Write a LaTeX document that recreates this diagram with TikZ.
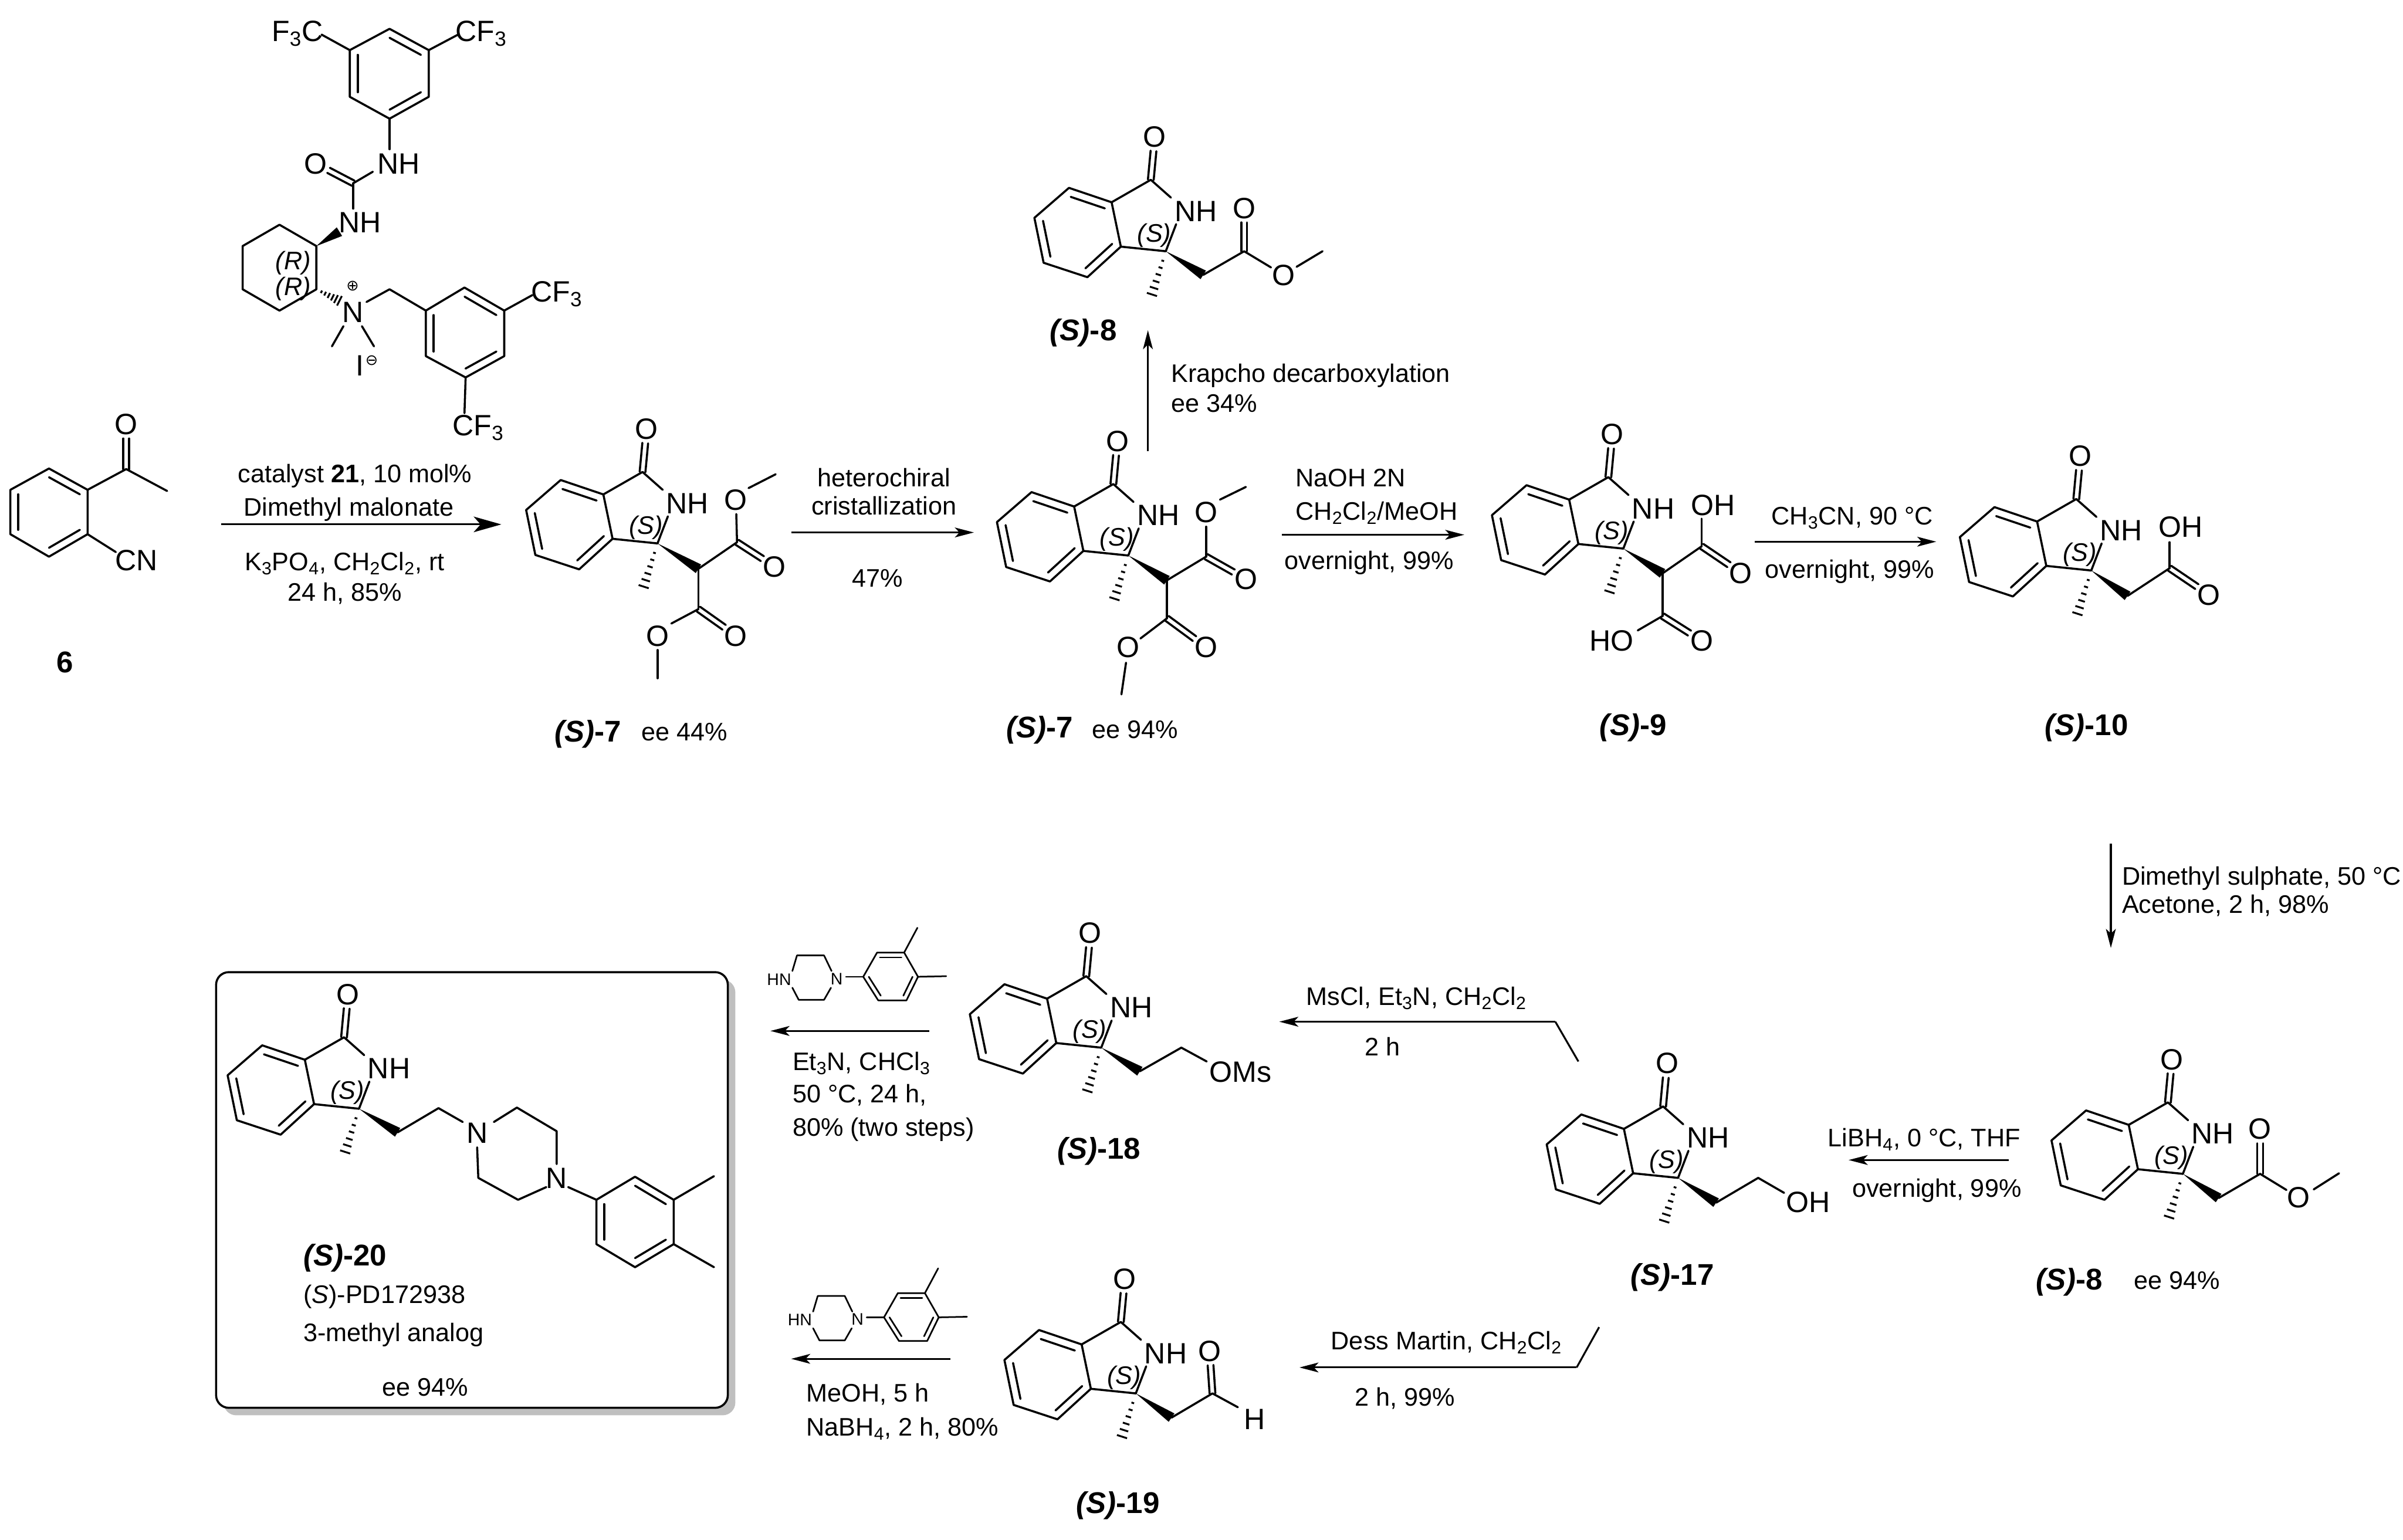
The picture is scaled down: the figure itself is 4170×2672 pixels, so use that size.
\documentclass[tikz,border=0pt]{standalone}
\usepackage{fontspec}
\setmainfont{Liberation Sans}
\newfontfamily\symfont{DejaVu Sans}
\usetikzlibrary{calc,arrows.meta}
\tikzset{
  bond/.style={line width=1.8pt,line cap=round,line join=round},
  hash/.style={line width=1.6pt,line cap=butt},
  arr/.style={line width=1.6pt,-{Stealth[length=16.5pt,width=8.5pt,inset=4pt]}},
  arrbig/.style={line width=1.6pt,-{Stealth[length=24pt,width=13.5pt,inset=6pt]}},
  thinl/.style={line width=1.6pt,line join=miter},
  atom/.style={inner sep=0pt,font=\fontsize{25.5}{25.5}\selectfont,text height=18pt,text depth=0pt},
  smatom/.style={inner sep=0pt,font=\fontsize{14.5}{14.5}\selectfont,text height=10.4pt,text depth=0pt},
  stereo/.style={inner sep=0pt,font=\fontsize{22}{22}\selectfont\itshape,text height=15.8pt,text depth=0pt},
  reag/.style={inner sep=0pt,font=\fontsize{22}{22}\selectfont,text height=15.8pt,text depth=0pt},
  reagl/.style={reag,anchor=west},
  cmpd/.style={inner sep=0pt,font=\fontsize{26}{26}\selectfont\bfseries,text height=18.7pt,text depth=0pt},
  chg/.style={inner sep=0pt,font=\fontsize{13}{13}\selectfont\symfont},
  frame/.style={draw=black,line width=1.8pt,fill=white,rounded corners=11pt,minimum width=444pt,minimum height=378pt,inner sep=0pt},
  frameshadow/.style={fill=black!25,rounded corners=11pt,minimum width=444pt,minimum height=378pt,inner sep=0pt},
}
\newcommand\Pt[3]{\coordinate (#1) at (#2,#3);}
\newcommand\Lb[5][atom]{\node[#1] (#2) at (#3,#4) {#5};}
\newcommand\Bd[2]{\draw[bond] (#1) -- (#2);}
\newcommand\Bt[2]{\draw[bond,shorten >=12.5pt] (#1) -- (#2.center);}
\newcommand\Db[2]{%
  \draw[bond,shorten >=12.5pt] ($(#1)!2.5pt!90:(#2.center)$) -- ($(#2.center)!2.5pt!-90:(#1)$);
  \draw[bond,shorten >=12.5pt] ($(#1)!2.5pt!-90:(#2.center)$) -- ($(#2.center)!2.5pt!90:(#1)$);}
\newcommand\In[3]{\draw[bond] ($(#1)!.2!(#3)$) -- ($(#2)!.2!(#3)$);}
\newcommand\Wd[2]{\fill (#1) -- ($(#2)!4.4pt!90:(#1)$) -- ($(#2)!4.4pt!-90:(#1)$) -- cycle;}
\newcommand\Hs[2]{\foreach \t/\w in {.22/1.2,.38/1.8,.54/2.4,.7/3,.85/3.8,1/4.6}{%
  \coordinate (hh) at ($(#1)!\t!(#2)$);
  \draw[hash] ($(hh)!\w pt!90:(#1)$) -- ($(hh)!\w pt!-90:(#1)$);}}
\newcommand\Sub[1]{\textsubscript{#1}}
\newcommand\Lactam[3]{%
  \begin{scope}[shift={(#2,#3)}]
    \Pt{#1c3}{0}{0}\Pt{#1c1}{-26}{-124}\Pt{#1a3}{-78}{-8}\Pt{#1a7}{-94}{-85}
    \Pt{#1c7}{-168}{-110}\Pt{#1c6}{-228}{-58}\Pt{#1c5}{-212}{20}\Pt{#1c4}{-136}{45}
    \Pt{#1m}{-24}{75}\Pt{#1n1}{9}{-93}\Pt{#1n2}{18}{-47}\Pt{#1ctr}{-153}{-32}
    \Lb{#1O}{-19}{-199}{O}
    \Lb{#1NH}{52}{-70}{NH}
    \Lb[stereo]{#1S}{-20}{-32}{(S)}
    \draw[bond] (#1a3) -- (#1a7) -- (#1c7) -- (#1c6) -- (#1c5) -- (#1c4) -- cycle;
    \In{#1a7}{#1c7}{#1ctr}\In{#1c6}{#1c5}{#1ctr}\In{#1c4}{#1a3}{#1ctr}
    \Bd{#1a7}{#1c1}\Bd{#1c1}{#1n1}\Bd{#1n2}{#1c3}\Bd{#1c3}{#1a3}
    \Db{#1c1}{#1O}
    \Hs{#1c3}{#1m}
  \end{scope}}
\newcommand\Pip[3]{%
  \begin{scope}[shift={(#2,#3)}]
    \Lb[smatom]{#1HN}{1352}{1699}{HN}\Lb[smatom]{#1N}{1452}{1698}{N}
    \Pt{#1a}{1375}{1685}\Pt{#1b}{1383}{1658}\Pt{#1c}{1430}{1658}\Pt{#1d}{1443}{1685}
    \Pt{#1e}{1375}{1714}\Pt{#1f}{1386}{1735}\Pt{#1g}{1430}{1735}\Pt{#1h}{1442}{1714}
    \Pt{#1i}{1468}{1695}
    \Pt{#1r1}{1498}{1695}\Pt{#1r2}{1522}{1653}\Pt{#1r3}{1569}{1653}\Pt{#1r4}{1593}{1695}\Pt{#1r5}{1573}{1736}\Pt{#1r6}{1524}{1736}
    \Pt{#1rc}{1546}{1695}\Pt{#1m1}{1592}{1610}\Pt{#1m2}{1642}{1694}
    \begin{scope}[bond,line width=1.4pt]
    \draw (#1a) -- (#1b) -- (#1c) -- (#1d);
    \draw (#1e) -- (#1f) -- (#1g) -- (#1h);
    \draw (#1i) -- (#1r1);
    \draw (#1r1) -- (#1r2) -- (#1r3) -- (#1r4) -- (#1r5) -- (#1r6) -- cycle;
    \draw ($(#1r2)!.2!(#1rc)$) -- ($(#1r3)!.2!(#1rc)$);
    \draw ($(#1r1)!.2!(#1rc)$) -- ($(#1r6)!.2!(#1rc)$);
    \draw ($(#1r4)!.2!(#1rc)$) -- ($(#1r5)!.2!(#1rc)$);
    \draw (#1r3) -- (#1m1);
    \draw (#1r4) -- (#1m2);
    \end{scope}
  \end{scope}}
\begin{document}
\begin{tikzpicture}[x=0.5pt,y=-0.5pt]
\useasboundingbox (0,0) rectangle (4170,2672);
\fill[white] (0,0) rectangle (4170,2672);

% ---------- compound 6
\Pt{a1}{85}{813}\Pt{a2}{152}{850}\Pt{a3}{152}{927}\Pt{a4}{85}{966}\Pt{a5}{18}{927}\Pt{a6}{18}{850}\Pt{actr}{85}{889}
\draw[bond] (a1)--(a2)--(a3)--(a4)--(a5)--(a6)--cycle;
\In{a1}{a2}{actr}\In{a3}{a4}{actr}\In{a5}{a6}{actr}
\Pt{a7}{219}{814}\Pt{a8}{290}{852}\Pt{a9}{201}{958}
\Lb{aO}{219}{736}{O}\Lb{aCN}{237}{972}{CN}
\Bd{a2}{a7}\Bd{a7}{a8}\Db{a7}{aO}\Bd{a3}{a9}
\Lb[cmpd]{l6}{113}{1148}{6}

% ---------- catalyst
\Pt{u1}{676}{50}\Pt{u2}{744}{87}\Pt{u3}{744}{168}\Pt{u4}{676}{206}\Pt{u5}{607}{168}\Pt{u6}{607}{87}\Pt{uc}{676}{128}
\draw[bond] (u1)--(u2)--(u3)--(u4)--(u5)--(u6)--cycle;
\In{u1}{u2}{uc}\In{u3}{u4}{uc}\In{u5}{u6}{uc}
\Lb{uF1}{516}{54}{F\Sub{3}C}\Lb{uF2}{835}{54}{CF\Sub{3}}
\Pt{u7}{558}{60}\Pt{u8}{795}{60}\Bd{u6}{u7}\Bd{u2}{u8}
\Pt{u9}{676}{259}\Bd{u4}{u9}
\Lb{uNH}{692}{284}{NH}\Lb{uO}{548}{284}{O}
\Pt{cu}{613}{318}\Pt{cu1}{647}{298}\Pt{cu2}{613}{362}
\Db{cu}{uO}\Bd{cu}{cu1}\Bd{cu}{cu2}
\Lb{uNH2}{625}{386}{NH}
\Pt{h1}{549}{427}\Pt{h2}{549}{502}\Pt{h3}{485}{539}\Pt{h4}{421}{502}\Pt{h5}{421}{427}\Pt{h6}{485}{390}
\draw[bond] (h1)--(h2)--(h3)--(h4)--(h5)--(h6)--cycle;
\Pt{h7}{589}{402}\Wd{h1}{h7}
\Pt{h8}{589}{522}\Hs{h2}{h8}
\Lb[stereo]{hR1}{509}{452}{(R)}\Lb[stereo]{hR2}{509}{497}{(R)}
\Lb{qN}{612}{541}{N}
\Lb[chg]{qP}{612}{496}{⊕}
\Pt{q1}{636}{524}\Pt{q2}{676}{502}\Pt{q3}{596}{566}\Pt{q4}{576}{601}\Pt{q5}{628}{566}\Pt{q6}{649}{601}
\Bd{q1}{q2}\Bd{q3}{q4}\Bd{q5}{q6}
\Lb{qI}{625}{634}{I}
\Lb[chg]{qM}{645}{626}{⊖}
\Pt{v1}{739}{539}\Pt{v2}{806}{499}\Pt{v3}{875}{539}\Pt{v4}{875}{618}\Pt{v5}{808}{655}\Pt{v6}{739}{618}\Pt{vc}{807}{578}
\draw[bond] (v1)--(v2)--(v3)--(v4)--(v5)--(v6)--cycle;
\In{v2}{v3}{vc}\In{v4}{v5}{vc}\In{v6}{v1}{vc}
\Bd{q2}{v1}
\Pt{v7}{924}{512}\Pt{v8}{806}{717}\Bd{v3}{v7}\Bd{v5}{v8}
\Lb{vF1}{966}{506}{CF\Sub{3}}\Lb{vF2}{830}{738}{CF\Sub{3}}

% ---------- arrow 1
\Pt{r1s}{384}{910}\Pt{r1e}{870}{910}\draw[arrbig] (r1s) -- (r1e);
\Lb[reag]{r1a}{616}{822}{catalyst \textbf{21}, 10 mol\%}
\Lb[reag]{r1b}{605}{880}{Dimethyl malonate}
\Lb[reag]{r1c}{598}{974}{K\Sub{3}PO\Sub{4}, CH\Sub{2}Cl\Sub{2}, rt}
\Lb[reag]{r1d}{598}{1027}{24 h, 85\%}

% ---------- (S)-7 ee 44
\Lactam{b}{1141}{943}
\Pt{b1}{1212}{987}\Pt{b2}{1279}{941}\Pt{b3}{1212}{1057}
\Lb{bO1}{1277}{867}{O}\Lb{bO2}{1344}{983}{O}\Lb{bO3}{1277}{1103}{O}\Lb{bO4}{1141}{1103}{O}
\Wd{bc3}{b1}\Bd{b1}{b2}\Bd{b1}{b3}
\Bt{b2}{bO1}\Db{b2}{bO2}\Db{b3}{bO3}
\Pt{b4}{1165}{1082}\Bd{b3}{b4}
\Pt{b5}{1299}{847}\Pt{b6}{1346}{823}\Bd{b5}{b6}
\Pt{b7}{1141}{1128}\Pt{b8}{1141}{1177}\Bd{b7}{b8}
\Lb[cmpd]{l7a}{1020}{1269}{\textit{(S)}-7}
\Lb[reag]{l7ae}{1188}{1269}{ee 44\%}

% ---------- arrow 2
\Pt{r2s}{1373}{924}\Pt{r2e}{1690}{924}\draw[arr] (r2s) -- (r2e);
\Lb[reag]{r2a}{1534}{829}{heterochiral}
\Lb[reag]{r2b}{1534}{878}{cristallization}
\Lb[reag]{r2c}{1523}{1003}{47\%}

% ---------- (S)-7 ee 94
\Lactam{c}{1958}{964}
\Pt{c11}{2025}{1007}\Pt{c12}{2093}{966}\Pt{c13}{2025}{1073}
\Lb{cO1}{2093}{889}{O}\Lb{cO2}{2162}{1005}{O}\Lb{cO3}{2093}{1123}{O}\Lb{cO4}{1958}{1123}{O}
\Wd{cc3}{c11}\Bd{c11}{c12}\Bd{c11}{c13}
\Bt{c12}{cO1}\Db{c12}{cO2}\Db{c13}{cO3}
\Pt{c14}{1979}{1108}\Bd{c13}{c14}
\Pt{c15}{2117}{867}\Pt{c16}{2162}{845}\Bd{c15}{c16}
\Pt{c17}{1954}{1150}\Pt{c18}{1946}{1205}\Bd{c17}{c18}
\Lb[cmpd]{l7b}{1804}{1262}{\textit{(S)}-7}
\Lb[reag]{l7be}{1970}{1265}{ee 94\%}

% ---------- Krapcho
\Pt{r3s}{1992}{783}\Pt{r3e}{1992}{573}\draw[arr] (r3s) -- (r3e);
\Lb[reagl]{r3a}{2032}{647}{Krapcho decarboxylation}
\Lb[reagl]{r3b}{2032}{699}{ee 34\%}

% ---------- (S)-8 top
\Lactam{d}{2023}{436}
\Pt{d1}{2088}{477}\Pt{d2}{2159}{436}\Pt{d3}{2295}{436}
\Lb{dO1}{2159}{361}{O}\Lb{dO2}{2227}{477}{O}
\Wd{dc3}{d1}\Bd{d1}{d2}\Db{d2}{dO1}\Bt{d2}{dO2}
\Pt{d4}{2250}{463}\Bd{d4}{d3}
\Lb[cmpd]{l8a}{1880}{572}{\textit{(S)}-8}

% ---------- arrow 3
\Pt{r4s}{2224}{928}\Pt{r4e}{2541}{928}\draw[arr] (r4s) -- (r4e);
\Lb[reagl]{r4a}{2248}{829}{NaOH 2N}
\Lb[reagl]{r4b}{2248}{887}{CH\Sub{2}Cl\Sub{2}/MeOH}
\Lb[reag]{r4c}{2376}{972}{overnight, 99\%}

% ---------- (S)-9
\Lactam{e}{2817}{952}
\Pt{e1}{2885}{995}\Pt{e2}{2953}{948}\Pt{e3}{2885}{1069}
\Lb{eOH}{2973}{876}{OH}\Lb{eO2}{3021}{994}{O}\Lb{eO3}{2953}{1112}{O}\Lb{eHO}{2797}{1112}{HO}
\Wd{ec3}{e1}\Bd{e1}{e2}\Bd{e1}{e3}
\Pt{e4}{2953}{900}\Bd{e2}{e4}\Db{e2}{eO2}\Db{e3}{eO3}
\Pt{e5}{2842}{1094}\Bd{e3}{e5}
\Lb[cmpd]{l9}{2834}{1257}{\textit{(S)}-9}

% ---------- arrow 4
\Pt{r5s}{3045}{940}\Pt{r5e}{3360}{940}\draw[arr] (r5s) -- (r5e);
\Lb[reag]{r5a}{3214}{895}{CH\Sub{3}CN, 90 °C}
\Lb[reag]{r5b}{3210}{987}{overnight, 99\%}

% ---------- (S)-10
\Lactam{f}{3629}{990}
\Pt{f1}{3692}{1034}\Pt{f2}{3765}{986}\Pt{f3}{3765}{941}
\Lb{fOH}{3784}{914}{OH}\Lb{fO2}{3833}{1032}{O}
\Wd{fc3}{f1}\Bd{f1}{f2}\Bd{f2}{f3}\Db{f2}{fO2}
\Lb[cmpd]{l10}{3621}{1257}{\textit{(S)}-10}

% ---------- arrow 5
\Pt{r6s}{3663}{1464}\Pt{r6e}{3663}{1645}\draw[arr] (r6s) -- (r6e);
\Lb[reagl]{r6a}{3682}{1520}{Dimethyl sulphate, 50 °C}
\Lb[reagl]{r6b}{3682}{1569}{Acetone, 2 h, 98\%}

% ---------- (S)-8 ee 94
\Lactam{g}{3788}{2037}
\Pt{g1}{3850}{2079}\Pt{g2}{3922}{2037}\Pt{g3}{4015}{2064}\Pt{g4}{4059}{2036}
\Lb{gO1}{3922}{1959}{O}\Lb{gO2}{3989}{2078}{O}
\Wd{gc3}{g1}\Bd{g1}{g2}\Db{g2}{gO1}\Bt{g2}{gO2}\Bd{g3}{g4}
\Lb[cmpd]{l8b}{3591}{2219}{\textit{(S)}-8}
\Lb[reag]{l8be}{3778}{2221}{ee 94\%}

% ---------- arrow 6
\Pt{r7s}{3486}{2013}\Pt{r7e}{3208}{2013}\draw[arr] (r7s) -- (r7e);
\Lb[reag]{r7a}{3339}{1974}{LiBH\Sub{4}, 0 °C, THF}
\Lb[reag]{r7b}{3361}{2062}{overnight, 99\%}

% ---------- (S)-17
\Lactam{k}{2912}{2044}
\Pt{k1}{2978}{2087}\Pt{k2}{3051}{2044}\Pt{k3}{3096}{2070}
\Lb{kOH}{3138}{2086}{OH}
\Wd{kc3}{k1}\Bd{k1}{k2}\Bd{k2}{k3}
\Lb[cmpd]{l17}{2902}{2211}{\textit{(S)}-17}

% ---------- arrow 7
\Pt{r8s}{2739}{1842}\Pt{r8m}{2699}{1773}\Pt{r8e}{2220}{1773}
\draw[thinl] (r8s) -- (r8m);
\draw[arr] (r8m) -- (r8e);
\Lb[reag]{r8a}{2458}{1729}{MsCl, Et\Sub{3}N, CH\Sub{2}Cl\Sub{2}}
\Lb[reag]{r8b}{2399}{1816}{2 h}

% ---------- (S)-18
\Lactam{m}{1911}{1818}
\Pt{m1}{1978}{1859}\Pt{m2}{2050}{1818}\Pt{m3}{2094}{1842}
\Lb{mOMs}{2153}{1860}{OMs}
\Wd{mc3}{m1}\Bd{m1}{m2}\Bd{m2}{m3}
\Lb[cmpd]{l18}{1907}{1992}{\textit{(S)}-18}

% ---------- arrow 8
\Pt{r9s}{2775}{2303}\Pt{r9m}{2736}{2373}\Pt{r9e}{2255}{2373}
\draw[thinl] (r9s) -- (r9m);
\draw[arr] (r9m) -- (r9e);
\Lb[reag]{r9a}{2510}{2326}{Dess Martin, CH\Sub{2}Cl\Sub{2}}
\Lb[reag]{r9b}{2438}{2424}{2 h, 99\%}

% ---------- (S)-19
\Lactam{n}{1971}{2418}
\Pt{n1}{2033}{2460}\Pt{n2}{2104}{2418}\Pt{n3}{2148}{2442}
\Lb{nO1}{2099}{2344}{O}\Lb{nH}{2177}{2462}{H}
\Wd{nc3}{n1}\Bd{n1}{n2}\Db{n2}{nO1}\Bd{n2}{n3}
\Lb[cmpd]{l19}{1940}{2607}{\textit{(S)}-19}

% ---------- arrows to the box
\Pip{p}{0}{0}
\Pt{r10s}{1613}{1789}\Pt{r10e}{1337}{1789}\draw[arr] (r10s) -- (r10e);
\Lb[reagl]{r10a}{1375}{1842}{Et\Sub{3}N, CHCl\Sub{3}}
\Lb[reagl]{r10b}{1375}{1898}{50 °C, 24 h,}
\Lb[reagl]{r10c}{1375}{1956}{80\% (two steps)}
\Pip{s}{36}{591}
\Pt{r11s}{1649}{2358}\Pt{r11e}{1373}{2358}\draw[arr] (r11s) -- (r11e);
\Lb[reagl]{r11a}{1399}{2417}{MeOH, 5 h}
\Lb[reagl]{r11b}{1399}{2476}{NaBH\Sub{4}, 2 h, 80\%}

% ---------- box
\node[frameshadow] (boxs) at (832,2078) {};
\node[frame] (box) at (819,2065) {};
\Lactam{t}{623}{1924}
\Pt{t1}{690}{1965}\Pt{t2}{761}{1923}\Pt{t3}{803}{1947}
\Lb{tN1}{828}{1966}{N}\Lb{tN2}{966}{2044}{N}
\Pt{t4}{857}{1947}\Pt{t5}{897}{1922}\Pt{t6}{966}{1963}\Pt{t7}{966}{2020}
\Pt{t8}{948}{2060}\Pt{t9}{899}{2082}\Pt{t10}{830}{2044}\Pt{t11}{828}{1991}\Pt{t12}{986}{2060}
\Wd{tc3}{t1}\Bd{t1}{t2}\Bd{t2}{t3}
\draw[bond] (t4)--(t5)--(t6)--(t7);
\draw[bond] (t8)--(t9)--(t10)--(t11);
\Pt{w1}{1035}{2082}\Pt{w2}{1102}{2042}\Pt{w3}{1169}{2082}\Pt{w4}{1169}{2159}\Pt{w5}{1102}{2199}\Pt{w6}{1035}{2159}\Pt{wc}{1102}{2120}
\Bd{t12}{w1}
\draw[bond] (w1)--(w2)--(w3)--(w4)--(w5)--(w6)--cycle;
\In{w2}{w3}{wc}\In{w4}{w5}{wc}\In{w6}{w1}{wc}
\Pt{w7}{1239}{2041}\Pt{w8}{1239}{2199}\Bd{w3}{w7}\Bd{w4}{w8}
\node[cmpd,anchor=west] (l20) at (526,2178) {\textit{(S)}-20};
\Lb[reagl]{l20a}{526}{2246}{(\textit{S})-PD172938}
\Lb[reagl]{l20b}{526}{2312}{3-methyl analog}
\Lb[reag]{l20c}{738}{2407}{ee 94\%}
\end{tikzpicture}
\end{document}
